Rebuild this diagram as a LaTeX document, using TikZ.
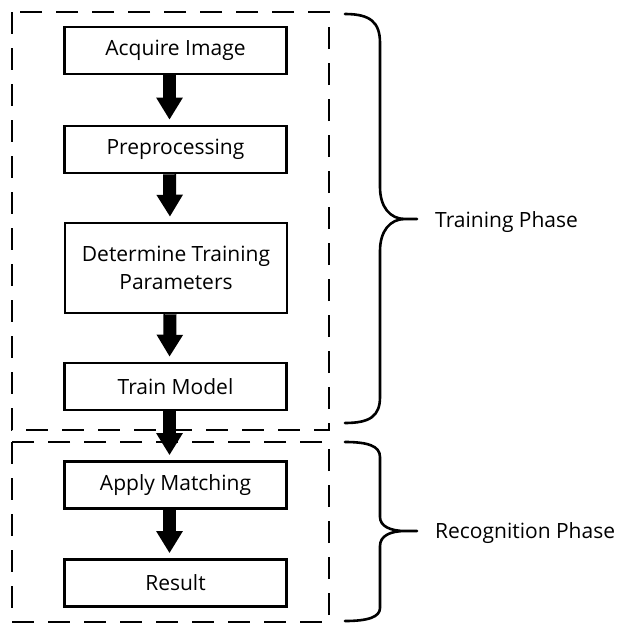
\documentclass[tikz,border=0pt]{standalone}
\usepackage{fontspec}
\setmainfont{Open Sans}
\usetikzlibrary{arrows.meta}

\tikzset{
  stepbox/.style={draw, line width=2.6pt, minimum width=222pt, minimum height=47pt,
    inner sep=0pt, align=center, font=\fontsize{21}{28}\selectfont},
  flow/.style={line width=13pt, -{Triangle[width=25pt,length=22pt]}, shorten >=5pt},
  phasebox/.style={line width=2.2pt, dash pattern=on 22pt off 14pt},
  brace/.style={line width=2.6pt, line join=round, line cap=round},
  phase/.style={anchor=west, inner sep=0pt, font=\fontsize{21}{24}\selectfont}
}

\begin{document}
\begin{tikzpicture}[x=1pt, y=-1pt]
    \useasboundingbox (0,0) rectangle (619,624);

    \node[stepbox] (acq) at (175.5,50.5) {Acquire Image};
    \node[stepbox] (pre) at (175.5,149.5) {Preprocessing};
    \node[stepbox, minimum height=90pt] (det) at (176,268) {Determine Training\\Parameters};
    \node[stepbox] (train) at (175.5,386.5) {Train Model};
    \node[stepbox] (match) at (175.5,485) {Apply Matching};
    \node[stepbox] (res) at (175.5,583) {Result};

    \draw[flow] ([xshift=-6pt]acq.south) -- ([xshift=-6pt]pre.north);
    \draw[flow] ([xshift=-6pt]pre.south) -- ([xshift=-6pt]det.north);
    \draw[flow] ([xshift=-6pt]det.south) -- ([xshift=-6pt]train.north);
    \draw[flow] ([xshift=-6pt]train.south) -- ([xshift=-6pt]match.north);
    \draw[flow] ([xshift=-6pt]match.south) -- ([xshift=-6pt]res.north);

    \draw[phasebox] (12,12) rectangle (329,430);
    \draw[phasebox] (12,442) rectangle (329,622);

    \draw[brace] (345,14) .. controls (370,14) and (380,22) .. (380,43) -- (380,187)
      .. controls (380,207) and (390,219) .. (405,219) -- (417,219) -- (405,219)
      .. controls (390,219) and (380,231) .. (380,251) -- (380,397)
      .. controls (380,416) and (370,423) .. (345,423);
    \draw[brace] (345,442) .. controls (368,442) and (380,446) .. (380,457) -- (380,517)
      .. controls (380,526) and (390,531) .. (405,531) -- (417,531) -- (405,531)
      .. controls (390,531) and (380,536) .. (380,546) -- (380,608)
      .. controls (380,617) and (368,621) .. (345,621);

    \node[phase] (tp) at (435,222) {Training Phase};
    \node[phase] (rp) at (435,533) {Recognition Phase};
\end{tikzpicture}
\end{document}
